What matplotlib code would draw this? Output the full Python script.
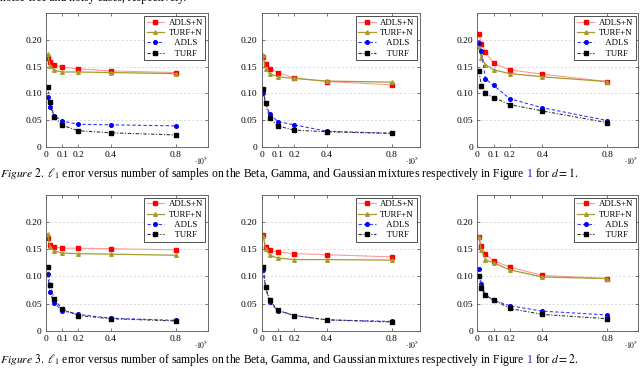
import matplotlib
matplotlib.use("Agg")
import matplotlib.pyplot as plt

plt.rcParams['font.family'] = ['Liberation Serif', 'DejaVu Serif']
plt.rcParams['mathtext.fontset'] = 'stix'

# number of samples (x 10^5)
samples = [0.01, 0.025, 0.05, 0.1, 0.2, 0.4, 0.8]

# Figure 2 (d = 1): Beta, Gamma, Gaussian mixtures
d1_adls_n = [
    [0.167, 0.159, 0.154, 0.149, 0.146, 0.142, 0.139],
    [0.169, 0.155, 0.146, 0.139, 0.129, 0.122, 0.116],
    [0.212, 0.193, 0.178, 0.156, 0.144, 0.136, 0.122],
]
d1_turf_n = [
    [0.173, 0.152, 0.143, 0.140, 0.140, 0.139, 0.137],
    [0.171, 0.145, 0.137, 0.131, 0.128, 0.123, 0.121],
    [0.186, 0.166, 0.154, 0.144, 0.137, 0.131, 0.122],
]
d1_adls = [
    [0.093, 0.075, 0.058, 0.048, 0.042, 0.041, 0.039],
    [0.100, 0.081, 0.062, 0.047, 0.041, 0.029, 0.025],
    [0.194, 0.179, 0.127, 0.115, 0.090, 0.073, 0.049],
]
d1_turf = [
    [0.112, 0.084, 0.056, 0.040, 0.030, 0.026, 0.022],
    [0.109, 0.081, 0.054, 0.039, 0.031, 0.028, 0.025],
    [0.142, 0.114, 0.100, 0.092, 0.079, 0.067, 0.045],
]

# Figure 3 (d = 2)
d2_adls_n = [
    [0.170, 0.157, 0.154, 0.152, 0.152, 0.151, 0.149],
    [0.176, 0.155, 0.148, 0.145, 0.142, 0.140, 0.136],
    [0.172, 0.156, 0.141, 0.129, 0.117, 0.102, 0.096],
]
d2_turf_n = [
    [0.178, 0.154, 0.147, 0.143, 0.142, 0.141, 0.139],
    [0.175, 0.151, 0.139, 0.134, 0.131, 0.131, 0.130],
    [0.172, 0.149, 0.131, 0.125, 0.112, 0.099, 0.096],
]
d2_adls = [
    [0.104, 0.071, 0.051, 0.037, 0.030, 0.023, 0.019],
    [0.112, 0.080, 0.052, 0.037, 0.028, 0.020, 0.017],
    [0.114, 0.086, 0.065, 0.056, 0.046, 0.036, 0.029],
]
d2_turf = [
    [0.118, 0.085, 0.058, 0.040, 0.028, 0.022, 0.018],
    [0.117, 0.080, 0.056, 0.038, 0.028, 0.020, 0.016],
    [0.101, 0.078, 0.065, 0.057, 0.041, 0.030, 0.022],
]

x_ticks = [0, 0.1, 0.2, 0.4, 0.8]
x_tick_labels = ["0", "0.1", "0.2", "0.4", "0.8"]
y_ticks = [0, 0.05, 0.10, 0.15, 0.20]
y_tick_labels = ["0", "0.05", "0.10", "0.15", "0.20"]

fig = plt.figure(figsize=(6.4, 3.68), dpi=100)

col_left = [46 / 640, 261.5 / 640, 477.3 / 640]
col_width = [162 / 640, 158 / 640, 161 / 640]
col_xmax = [0.998, 0.97, 0.99]
row_bottom = [1 - 146.7 / 368, 1 - 330.7 / 368]
row_height = [133.4 / 368, 135.7 / 368]

rows = [(d1_adls_n, d1_turf_n, d1_adls, d1_turf),
        (d2_adls_n, d2_turf_n, d2_adls, d2_turf)]

for r, (adls_n, turf_n, adls, turf) in enumerate(rows):
    for c in range(3):
        ax = fig.add_axes([col_left[c], row_bottom[r], col_width[c], row_height[r]])
        ax.plot(samples, adls_n[c], color="#ff9999", lw=0.8, marker="s", ms=2.6,
                mfc="red", mec="red", label="ADLS+N")
        ax.plot(samples, turf_n[c], color="#a89a2c", lw=0.9, marker="^", ms=2.6,
                mfc="#a89a2c", mec="#a89a2c", label="TURF+N")
        ax.plot(samples, adls[c], color="#3a3aff", lw=0.8, ls=(0, (3, 2)), marker="o", ms=2.6,
                mfc="blue", mec="blue", label="   ADLS")
        ax.plot(samples, turf[c], color="#333333", lw=0.8, ls=(0, (3, 1.5, 1, 1.5)), marker="s",
                ms=2.6, mfc="black", mec="black", label="   TURF")
        ax.set_xlim(0, col_xmax[c])
        ax.set_ylim(0, 0.25)
        ax.set_xticks(x_ticks)
        ax.set_xticklabels(x_tick_labels)
        ax.set_yticks(y_ticks)
        ax.set_yticklabels(y_tick_labels)
        ax.tick_params(direction="in", top=True, right=True, length=2.5, width=0.5,
                       labelsize=6.8, pad=3, color="#444444")
        for sp in ax.spines.values():
            sp.set_linewidth(0.6)
            sp.set_color("#555555")
        ax.grid(axis="y", ls=(0, (3, 3)), color="#cccccc", lw=0.5)
        ax.set_axisbelow(True)
        leg = ax.legend(loc="upper right", fontsize=6.3, handlelength=2.0, handletextpad=0.5,
                        labelspacing=0.25, borderpad=0.3, borderaxespad=0.3,
                        fancybox=False, framealpha=1, edgecolor="#333333")
        leg.get_frame().set_linewidth(0.6)
        ax.text(1.0, -0.105, r"$\cdot 10^5$", transform=ax.transAxes, ha="right",
                va="center", fontsize=5.5)

# page text around the figures
fig.text(0.0, 1 - 1.5 / 368, "noise-free and noisy cases, respectively.", fontsize=8.4,
         va="baseline", ha="left")

renderer = fig.canvas.get_renderer()


def right_edge(s, y):
    probe = fig.text(0.0, y, s, fontsize=8.4, va="baseline", ha="left")
    x1 = probe.get_window_extent(renderer).x1 / fig.bbox.width
    probe.remove()
    return x1


def caption(num, d, y):
    head = (r"$\mathit{Figure\ %d.}$ $\ell_1$ error versus number of samples on the Beta, "
            r"Gamma, and Gaussian mixtures respectively in Figure" % num)
    tail = r"for $d = %d$." % d
    fig.text(0.0, y, head, fontsize=8.4, va="baseline", ha="left")
    # the figure number is a link, so it is blue
    fig.text(right_edge(head + " 1", y), y, "1", fontsize=8.4, va="baseline", ha="right",
             color="#2020b0")
    fig.text(right_edge(head + " 1 " + tail, y), y, tail, fontsize=8.4, va="baseline",
             ha="right")


caption(2, 1, 1 - 177 / 368)
caption(3, 2, 1 - 363 / 368)

fig.savefig("out.png", dpi=100)
